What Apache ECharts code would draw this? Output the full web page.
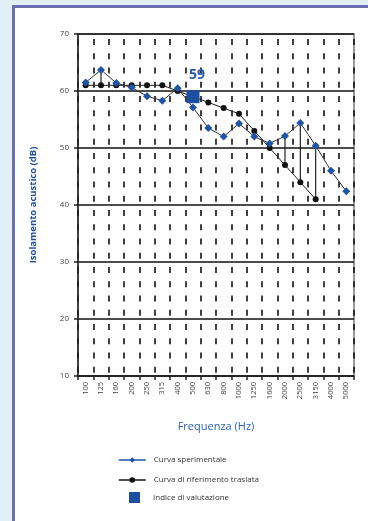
<!DOCTYPE html>
<html>
<head>
<meta charset="utf-8">
<script src="https://cdn.jsdelivr.net/npm/echarts@6/dist/echarts.min.js"></script>
<style>
html,body{margin:0;padding:0;background:#e2eff5;}
#c{width:368px;height:521px;}
</style>
</head>
<body>
<div id="c"></div>
<script>
const categories = ['100','125','160','200','250','315','400','500','630','800','1000','1250','1600','2000','2500','3150','4000','5000'];
const sperimentale = [61.5, 63.7, 61.4, 60.6, 59.1, 58.3, 60.5, 57.1, 53.5, 52.0, 54.3, 52.0, 50.8, 52.1, 54.4, 50.4, 46.0, 42.4];
const riferimento = [61, 61, 61, 61, 61, 61, 60, 59, 58, 57, 56, 53, 50, 47, 44, 41, null, null];
const indiceCategory = '500';
const indiceValue = 59;
const yTicks = [10, 20, 30, 40, 50, 60, 70];

const blue = '#1f55a5';
const chart = echarts.init(document.getElementById('c'), null, {renderer: 'canvas'});

// deviations where measured curve exceeds the shifted reference
const deviations = [];
sperimentale.forEach((v, i) => {
  const r = riferimento[i];
  if (r != null && v > r) deviations.push([i, v, r]);
});

chart.setOption({
  backgroundColor: '#e2eff5',
  animation: false,
  textStyle: {fontFamily: 'Open Sans, Liberation Sans, sans-serif'},
  graphic: [{
    type: 'rect', left: 12, top: 5, z: -10,
    shape: {x: 0, y: 0, width: 380, height: 540},
    style: {fill: '#ffffff', stroke: '#6b6fb2', lineWidth: 3}
  }],
  grid: {left: 78, top: 34, width: 276, height: 342, containLabel: false,
    show: true, borderColor: '#777', borderWidth: 1.5, backgroundColor: 'transparent'},
  xAxis: {
    type: 'category',
    data: categories,
    boundaryGap: true,
    name: 'Frequenza (Hz)',
    nameLocation: 'middle',
    nameGap: 45,
    nameTextStyle: {color: '#2a62b8', fontSize: 11},
    axisLine: {show: true, lineStyle: {color: '#222', width: 1.5}},
    axisTick: {show: true, length: 4, inside: false, alignWithLabel: false, lineStyle: {color: '#222', width: 1.5}},
    axisLabel: {rotate: 90, fontSize: 7.5, color: '#444', margin: 6, interval: 0},
    splitLine: {show: true, interval: 0, lineStyle: {color: '#111', width: 1.6, type: [6, 8.25], dashOffset: 9.25}}
  },
  yAxis: {
    type: 'value',
    min: 10, max: 70, interval: 10,
    name: 'Isolamento acustico (dB)',
    nameLocation: 'middle',
    nameGap: 40,
    nameTextStyle: {color: '#1f4fa0', fontSize: 9.5, fontWeight: 'bold'},
    axisLine: {show: true, lineStyle: {color: '#222', width: 1.5}},
    axisTick: {show: true, length: 4, lineStyle: {color: '#222', width: 1.5}},
    axisLabel: {fontSize: 8, color: '#444', margin: 9,
      formatter: v => (yTicks.indexOf(v) >= 0 ? String(v) : '')},
    splitLine: {show: true, lineStyle: {color: '#111', width: 1.6}}
  },
  legend: [{
    orient: 'vertical',
    left: 118, top: 456, padding: 0,
    itemWidth: 27, itemHeight: 7,
    itemGap: 12,
    textStyle: {fontSize: 8, color: '#333', padding: [0, 0, 0, 3]},
    data: [
      {name: 'Curva sperimentale', lineStyle: {color: blue, width: 1.5}},
      {name: 'Curva di riferimento traslata', lineStyle: {color: '#111', width: 1.5}}
    ]
  }, {
    orient: 'vertical',
    left: 129, top: 492, padding: 0,
    itemWidth: 11, itemHeight: 11,
    textStyle: {fontSize: 8, color: '#333', padding: [0, 0, 0, 8]},
    data: [{name: 'Indice di valutazione', icon: 'rect'}]
  }],
  series: [
    {
      name: 'Curva di riferimento traslata',
      type: 'line',
      data: riferimento,
      symbol: 'circle', symbolSize: 6,
      itemStyle: {color: '#111'},
      lineStyle: {color: '#222', width: 1},
      z: 3
    },
    {
      name: 'Curva sperimentale',
      type: 'line',
      data: sperimentale,
      symbol: 'diamond', symbolSize: 8,
      itemStyle: {color: blue},
      lineStyle: {color: '#333', width: 1},
      z: 4
    },
    {
      name: 'deviazioni',
      type: 'custom',
      data: deviations,
      renderItem: function (params, api) {
        const p1 = api.coord([api.value(0), api.value(1)]);
        const p2 = api.coord([api.value(0), api.value(2)]);
        return {type: 'line', shape: {x1: p1[0], y1: p1[1], x2: p2[0], y2: p2[1]},
          style: {stroke: '#222', lineWidth: 1.2}};
      },
      z: 2
    },
    {
      name: 'Indice di valutazione',
      type: 'scatter',
      data: [[indiceCategory, indiceValue]],
      symbol: 'rect', symbolSize: 13,
      itemStyle: {color: '#1d4fa0', opacity: 1},
      label: {show: true, position: 'top', distance: 8, offset: [4, 0],
        formatter: p => String(p.value[1]), color: '#2a5cad', fontSize: 14, fontWeight: 'bold'},
      z: 6
    }
  ]
});
</script>
</body>
</html>
